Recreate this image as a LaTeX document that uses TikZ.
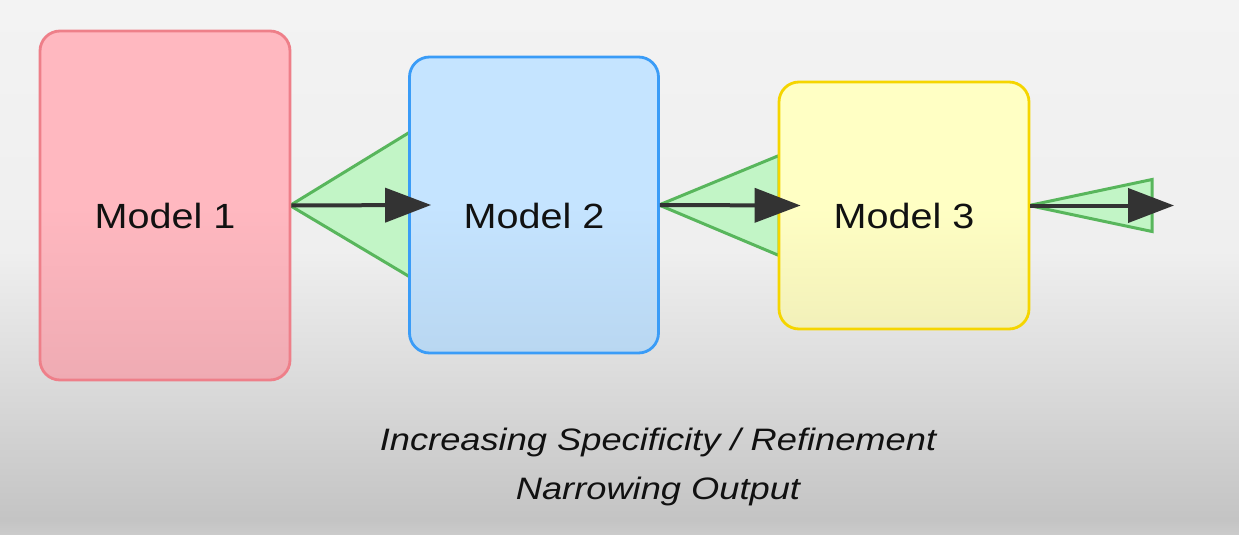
\documentclass[tikz,border=0pt]{standalone}
\usepackage{fontspec}
\setmainfont{Liberation Sans}
\newfontfamily\boxfont{Liberation Sans}[FakeStretch=1.13]
\newfontfamily\capfont{Liberation Sans}[FakeStretch=1.17]
\usetikzlibrary{arrows.meta}
\definecolor{bgA}{HTML}{F3F3F3}
\definecolor{bgB}{HTML}{EFEFEF}
\definecolor{bgC}{HTML}{DBDBDB}
\definecolor{bgD}{HTML}{C4C4C4}
\definecolor{bgE}{HTML}{CBCBCB}
\definecolor{redfillT}{HTML}{FFB8C0}
\definecolor{redfillB}{HTML}{EFABB3}
\definecolor{redline}{HTML}{EE7F89}
\definecolor{bluefillT}{HTML}{C5E4FF}
\definecolor{bluefillB}{HTML}{B9D7F1}
\definecolor{blueline}{HTML}{3A9CF7}
\definecolor{yelfillT}{HTML}{FFFFC4}
\definecolor{yelfillB}{HTML}{F2F0B9}
\definecolor{yelline}{HTML}{F5D500}
\definecolor{grnfill}{HTML}{C2F5C6}
\definecolor{grnline}{HTML}{58B65C}
\definecolor{arrowcol}{HTML}{333333}
\definecolor{txt}{HTML}{111111}
\pgfdeclareverticalshading{bgshade}{100bp}{color(0bp)=(bgE); color(25bp)=(bgE); color(26.4bp)=(bgD); color(39.5bp)=(bgC); color(51.6bp)=(bgB); color(75bp)=(bgA); color(100bp)=(bgA)}
\tikzset{
  modelbox/.style={draw, line width=2.8pt, rounded corners=20pt, inner sep=0pt},
  modeltext/.style={anchor=base, text=txt, font=\boxfont\fontsize{35pt}{42pt}\selectfont},
  funnel/.style={draw=grnline, fill=grnfill, line width=3pt, line join=miter},
  flow/.style={draw=arrowcol, line width=4pt, -{Triangle[length=46pt,width=34pt]}},
  captext/.style={anchor=base, text=txt, font=\capfont\itshape\fontsize{31pt}{37pt}\selectfont}
}
\begin{document}
\begin{tikzpicture}[x=1pt,y=-1pt]
\useasboundingbox (0,0) rectangle (1239,535);
\shade[shading=bgshade] (0,0) rectangle (1239,535);
\path (165,205.5) coordinate (c1) (534,205) coordinate (c2) (904,205.5) coordinate (c3);
\path (290,205.5) coordinate (e1) (410,205) coordinate (w2) (659,205) coordinate (e2)
      (779,205.5) coordinate (w3) (1029,205.5) coordinate (e3) (1152,205.5) coordinate (b4)
      (1174,205.5) coordinate (out);
\draw[funnel] (e1) -- ([yshift=73pt]w2) -- ([yshift=-72pt]w2) -- cycle;
\draw[funnel] (e2) -- ([yshift=50pt]w3) -- ([yshift=-50pt]w3) -- cycle;
\draw[funnel] (e3) -- ([yshift=26pt]b4) -- ([yshift=-26pt]b4) -- cycle;
\node[modelbox, draw=redline, top color=redfillT, bottom color=redfillB, middle color=redfillT,
      minimum width=250pt, minimum height=349pt] (m1) at (c1) {};
\node[modelbox, draw=blueline, top color=bluefillT, bottom color=bluefillB, middle color=bluefillT,
      minimum width=249pt, minimum height=296pt] (m2) at (c2) {};
\node[modelbox, draw=yelline, top color=yelfillT, bottom color=yelfillB, middle color=yelfillT,
      minimum width=250pt, minimum height=247pt] (m3) at (c3) {};
\node[modeltext] (t1) at ([yshift=-22.5pt]m1.center) {Model 1};
\node[modeltext] (t2) at ([yshift=-23pt]m2.center) {Model 2};
\node[modeltext] (t3) at ([yshift=-22.5pt]m3.center) {Model 3};
\draw[flow] (m1.east) -- ([xshift=23pt]m2.west);
\draw[flow] (m2.east) -- ([xshift=23pt]m3.west);
\draw[flow] (m3.east) -- (out);
\node[captext] (cap1) at (658,450) {Increasing Specificity / Refinement};
\node[captext] (cap2) at (658,499) {Narrowing Output};
\end{tikzpicture}
\end{document}
